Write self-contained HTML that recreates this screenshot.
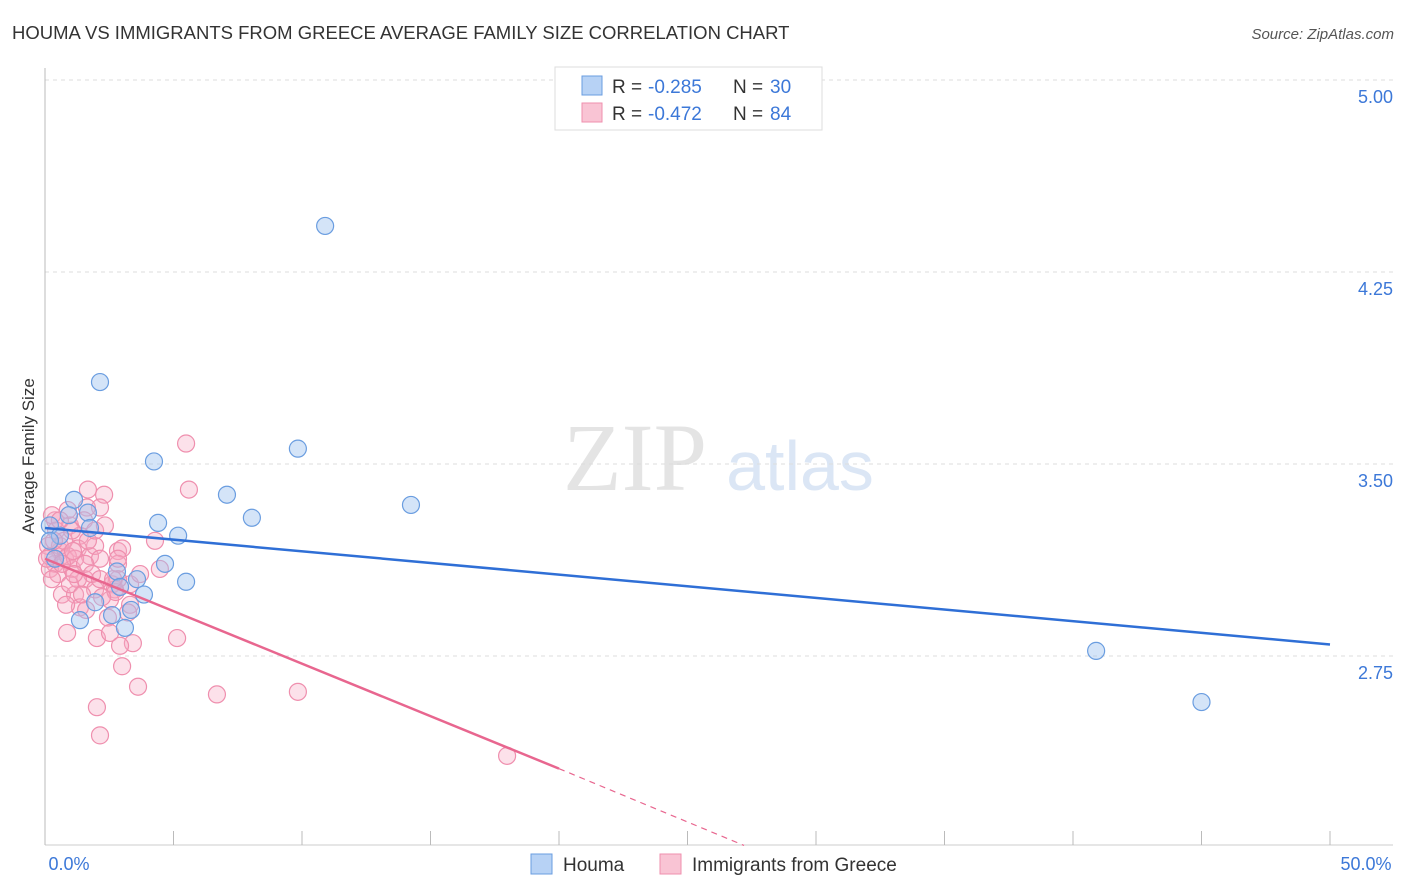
<!DOCTYPE html>
<html><head><meta charset="utf-8"><style>
body{margin:0;background:#fff;font-family:"Liberation Sans",sans-serif;}
svg{display:block}
</style></head><body>
<svg id="chart" width="1406" height="892">
<text x="12" y="39" font-size="18.5" fill="#333">HOUMA VS IMMIGRANTS FROM GREECE AVERAGE FAMILY SIZE CORRELATION CHART</text>
<text x="1394" y="39" font-size="15" fill="#555" font-style="italic" text-anchor="end">Source: ZipAtlas.com</text>
<text x="635" y="490" font-size="96" fill="#e4e4e4" font-family="Liberation Serif,serif" text-anchor="middle">ZIP</text>
<text x="800" y="490" font-size="70" fill="#dbe6f5" text-anchor="middle">atlas</text>
<text x="34" y="456" font-size="17" fill="#333" transform="rotate(-90 34 456)" text-anchor="middle">Average Family Size</text>
<g id="grid"></g><g id="pts"></g><g id="trend"></g>
<g>
<rect x="555" y="67" width="267" height="63" fill="#fff" stroke="#ddd"/>
<rect x="582" y="76" width="20" height="19" fill="#b7d2f5" stroke="#6a9de0"/>
<rect x="582" y="103" width="20" height="19" fill="#f9c4d4" stroke="#ef8fae"/>
<g font-size="19" fill="#333">
<text x="612" y="93">R =</text><text x="648" y="93" fill="#3c78d8">-0.285</text><text x="733" y="93">N =</text><text x="770" y="93" fill="#3c78d8">30</text></g>
<g font-size="19" fill="#333">
<text x="612" y="120">R =</text><text x="648" y="120" fill="#3c78d8">-0.472</text><text x="733" y="120">N =</text><text x="770" y="120" fill="#3c78d8">84</text></g>
</g>
<g>
<rect x="531" y="854" width="21" height="20" fill="#b7d2f5" stroke="#6a9de0"/>
<text x="563" y="871" font-size="19" fill="#333">Houma</text>
<rect x="660" y="854" width="21" height="20" fill="#f9c4d4" stroke="#ef8fae"/>
<text x="692" y="871" font-size="19" fill="#333">Immigrants from Greece</text>
</g>
</svg>
<script>
const yTicks=[5.00,4.25,3.50,2.75];
const xTickLabels=["0.0%","50.0%"];
const houmaX=[10.9,2.14,4.24,9.84,7.08,1.13,14.24,8.05,4.40,0.93,1.67,1.75,5.18,0.19,0.58,4.67,2.80,3.58,5.49,3.85,1.95,3.35,1.36,2.61,3.11,40.9,45.0,0.39,2.92,0.19];
const houmaY=[4.43,3.82,3.51,3.56,3.38,3.36,3.34,3.29,3.27,3.30,3.31,3.25,3.22,3.26,3.22,3.11,3.08,3.05,3.04,2.99,2.96,2.93,2.89,2.91,2.86,2.77,2.57,3.13,3.02,3.20];
const greeceX=[5.49,5.60,2.30,1.67,2.14,1.63,0.89,0.39,0.97,1.36,1.28,0.58,0.78,0.39,0.19,0.51,1.05,1.75,1.95,1.56,2.14,2.84,3.00,2.84,3.31,2.61,2.72,4.47,3.70,4.28,0.66,1.17,1.36,1.95,3.31,2.45,0.86,2.02,2.53,5.14,3.42,2.92,3.00,3.62,6.69,9.84,2.02,2.14,17.98,0.27,0.12,0.58,0.89,1.17,1.56,1.83,2.14,1.28,0.97,2.53,2.84,1.52,0.43,0.74,0.19,1.09,1.67,1.95,2.33,2.75,2.22,0.08,0.27,0.66,1.13,1.44,0.82,3.23,1.60,2.84,2.65,0.35,0.58,1.05];
const greeceY=[3.58,3.40,3.38,3.40,3.33,3.33,3.32,3.28,3.26,3.22,3.17,3.16,3.13,3.11,3.09,3.07,3.09,3.14,3.18,3.05,3.13,3.16,3.17,3.11,3.03,3.03,3.01,3.09,3.07,3.20,2.99,2.99,2.94,3.01,2.95,2.90,2.84,2.82,2.84,2.82,2.80,2.79,2.71,2.63,2.60,2.61,2.55,2.44,2.36,3.30,3.18,3.18,3.14,3.13,3.11,3.07,3.05,3.05,3.03,2.97,3.13,3.28,3.24,3.20,3.14,3.16,3.20,3.24,3.26,3.00,2.98,3.13,3.05,3.11,3.07,2.99,2.95,2.92,2.93,3.05,3.05,3.20,3.28,3.24];
const houmaTrend=[[0,3.25],[50,2.795]];
const greeceTrend=[[0,3.13],[20.0,2.31],[27.2,2.01]];
const NS="http://www.w3.org/2000/svg";
const X0=45,X1=1330,Y5=80,PXU=256;
const sx=v=>X0+(v/50)*(X1-X0);
const sy=v=>Y5+(5-v)*PXU;
function mk(tag,attrs,parent){const e=document.createElementNS(NS,tag);for(const k in attrs)e.setAttribute(k,attrs[k]);parent.appendChild(e);return e;}
const grid=document.getElementById('grid');
yTicks.forEach(t=>{
 const l=mk('line',{x1:X0,x2:1393,y1:sy(t),y2:sy(t),stroke:'#ddd','stroke-dasharray':'4,4'},grid);
 
 
 const tx=mk('text',{x:1393,y:sy(t)+23,'font-size':18,fill:'#3c78d8','text-anchor':'end'},grid);
 tx.textContent=t.toFixed(2);
 
 
});
const ax=mk('line',{x1:X0,x2:X0,y1:68,y2:845,stroke:'#bbb'},grid);


const bx=mk('line',{x1:X0,x2:1393,y1:845,y2:845,stroke:'#ccc'},grid);


for(let p=0;p<=50;p+=5){
 const t=mk('line',{x1:sx(p),x2:sx(p),y1:831,y2:845,stroke:'#bbb'},grid);
 
 
}
[69,1366].forEach((xp,i)=>{
 const t=mk('text',{x:xp,y:870,'font-size':18,fill:'#3c78d8','text-anchor':'middle'},grid);
 t.textContent=xTickLabels[i];
 
 
});
const pts=document.getElementById('pts');
greeceX.forEach((x,i)=>{
 const c=mk('circle',{cx:sx(x),cy:sy(greeceY[i]),r:8.5,fill:'rgba(247,170,195,0.35)',stroke:'#ef8fae','stroke-width':1.2},pts);
 
 
});
houmaX.forEach((x,i)=>{
 const c=mk('circle',{cx:sx(x),cy:sy(houmaY[i]),r:8.5,fill:'rgba(160,196,240,0.45)',stroke:'#6a9de0','stroke-width':1.2},pts);
 
 
});
const tr=document.getElementById('trend');
const hl=mk('line',{x1:sx(houmaTrend[0][0]),y1:sy(houmaTrend[0][1]),x2:sx(houmaTrend[1][0]),y2:sy(houmaTrend[1][1]),stroke:'#2f6fd6','stroke-width':2.5},tr);


const gl=mk('line',{x1:sx(greeceTrend[0][0]),y1:sy(greeceTrend[0][1]),x2:sx(greeceTrend[1][0]),y2:sy(greeceTrend[1][1]),stroke:'#e8668f','stroke-width':2.5},tr);


const gd=mk('line',{x1:sx(greeceTrend[1][0]),y1:sy(greeceTrend[1][1]),x2:sx(greeceTrend[2][0]),y2:sy(greeceTrend[2][1]),stroke:'#e8668f','stroke-width':1.2,'stroke-dasharray':'6,5'},tr);


</script>
</body></html>
